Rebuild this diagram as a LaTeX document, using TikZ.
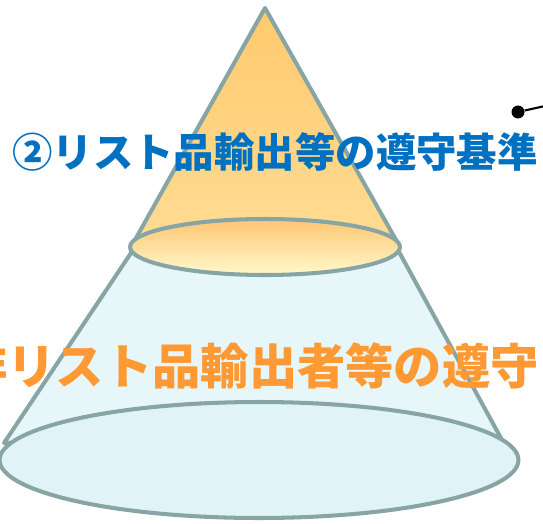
\documentclass[tikz,border=0pt]{standalone}
\usepackage{fontspec}
\newfontfamily\jpfont{Noto Sans CJK JP}
\definecolor{edgegray}{HTML}{88A5A5}
\definecolor{titleblue}{HTML}{0070C0}
\definecolor{titleorange}{HTML}{FF9933}
\definecolor{apexorange}{HTML}{FFCA6E}
\definecolor{peach}{HTML}{FFCE9C}
\definecolor{paleyellow}{HTML}{FFDC94}
\definecolor{lidtop}{HTML}{FFC673}
\definecolor{lidmid}{HTML}{FFCAA2}
\definecolor{lidbottom}{HTML}{FFF9CC}
\definecolor{icecyan}{HTML}{E7F7F9}
\definecolor{baseedge}{HTML}{E0F4F7}
\definecolor{basemid}{HTML}{EEF9FB}
\begin{document}
\begin{tikzpicture}[x=0.02cm, y=-0.02cm,
        edge/.style={draw=edgegray, line width=2.3pt, line join=round},
        upper/.style={edge, top color=apexorange, middle color=peach, bottom color=paleyellow},
        lid/.style={edge, top color=lidtop, middle color=lidmid, bottom color=lidbottom},
        lower/.style={edge, fill=icecyan},
        base/.style={edge, top color=baseedge, middle color=basemid, bottom color=baseedge},
        label/.style={inner sep=0pt}
    ]
        \clip (0,0) rectangle (543,523);

        % 下の円錐台
        \filldraw[lower] (133,250) -- (4,443) -- (502,440) -- (398,250) -- cycle;
        \filldraw[base] (259,460) ellipse [x radius=5.19cm, y radius=1.16cm];

        % 上の円錐
        \filldraw[upper] (265,8) -- (131,247) -- (400,247) -- cycle;
        \filldraw[lid] (265,247) ellipse [x radius=2.7cm, y radius=0.56cm];

        % 見出し
        \node[label, text=titleblue, font=\jpfont\bfseries\fontsize{23}{23}\selectfont] (upperlabel) at (275,152) {②リスト品輸出等の遵守基準};
        \node[label, text=titleorange, font=\jpfont\bfseries\fontsize{27.5}{27.5}\selectfont] (lowerlabel) at (249,366) {非リスト品輸出者等の遵守};

        % 引き出し線
        \node[circle, fill=black, inner sep=0pt, minimum size=0.26cm] (pin) at (518,112) {};
        \coordinate (pinend) at (545,106);
        \draw[line width=1.2pt] (pin) -- (pinend);
    \end{tikzpicture}
\end{document}
